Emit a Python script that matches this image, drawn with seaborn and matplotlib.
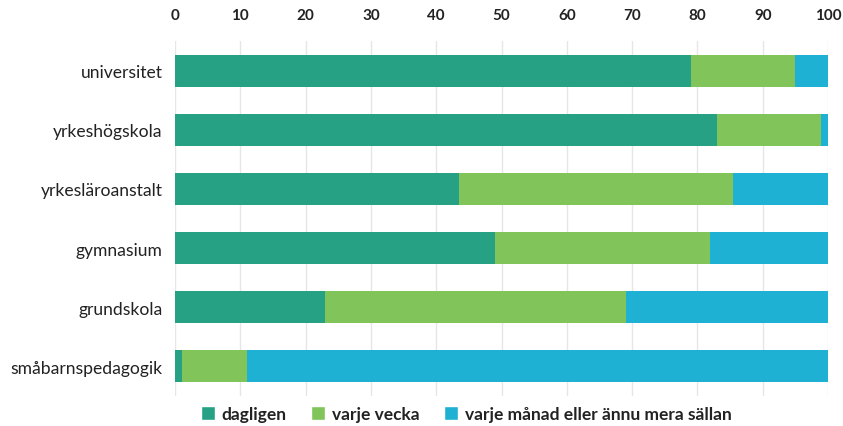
import matplotlib
matplotlib.use("Agg")
import matplotlib.pyplot as plt
import seaborn as sns
import pandas as pd
import numpy as np
from matplotlib.patches import Patch

categories = ["universitet", "yrkeshögskola", "yrkesläroanstalt", "gymnasium", "grundskola", "småbarnspedagogik"]
dagligen = [79, 83, 43.5, 49, 23, 1]
varje_vecka = [16, 16, 42, 33, 46, 10]
varje_manad = [5, 1, 14.5, 18, 31, 89]
series_names = ["dagligen", "varje vecka", "varje månad eller ännu mera sällan"]
colors = ["#26A183", "#80C45A", "#1EB1D3"]
ticks = list(range(0, 101, 10))

sns.set_theme(style="white")
plt.rcParams["font.family"] = ["Lato", "DejaVu Sans"]

cum1 = np.array(dagligen)
cum2 = cum1 + np.array(varje_vecka)
cum3 = cum2 + np.array(varje_manad)
df = pd.DataFrame({"cat": categories, "c1": cum1, "c2": cum2, "c3": cum3})

fig = plt.figure(figsize=(8.43, 4.27), dpi=100)
ax = fig.add_axes([175/843, 1-397/427, (828-175)/843, (397-42)/427])

for col, c in zip(["c3", "c2", "c1"], colors[::-1]):
    sns.barplot(data=df, y="cat", x=col, orient="h", color=c, width=0.54,
                ax=ax, saturation=1, linewidth=0, order=categories)

ax.set_xlim(0, 100)
ax.set_xticks(ticks)
ax.set_xticklabels([str(t) for t in ticks], fontsize=11, fontweight="bold", color="#222222")
ax.xaxis.tick_top()
ax.tick_params(axis="x", length=0, pad=14)
ax.tick_params(axis="y", length=0, pad=9, labelsize=12.6, labelcolor="#222222")
ax.set_xlabel("")
ax.set_ylabel("")
for s in ax.spines.values():
    s.set_visible(False)
ax.grid(axis="x", color="#E6E6E6", linewidth=1)
ax.set_axisbelow(True)

handles = [Patch(facecolor=c, label=n) for c, n in zip(colors, series_names)]
leg = fig.legend(handles=handles, loc="center", bbox_to_anchor=(0.553, 1-415/427),
                 ncol=3, frameon=False, handlelength=0.8, handleheight=0.8,
                 handletextpad=0.4, columnspacing=1.4,
                 prop={"weight": "bold", "size": 12.5})
for t in leg.get_texts():
    t.set_color("#222222")

fig.savefig("out.png", dpi=100)
